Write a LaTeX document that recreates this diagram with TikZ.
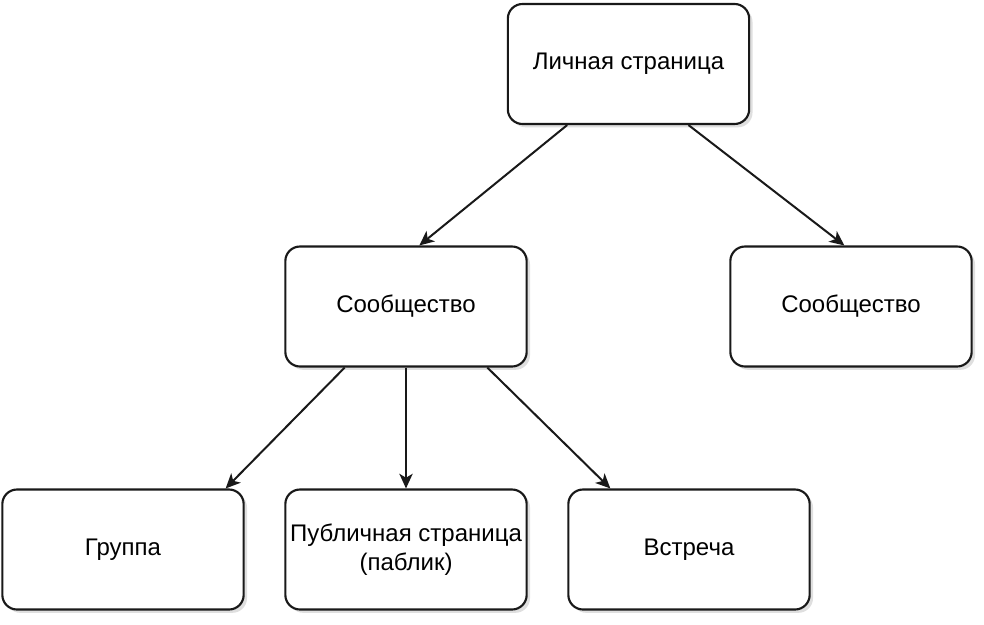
\documentclass[tikz,border=0pt]{standalone}
\usepackage{fontspec}
\setmainfont{Liberation Sans}
\usetikzlibrary{arrows.meta,shadows}
\begin{document}
\begin{tikzpicture}[x=0.75pt,y=-0.75pt,
  box/.style={draw=black!90,line width=1.6pt,rounded corners=11pt,fill=white,
    minimum width=181pt,minimum height=90pt,inner sep=0pt,align=center,
    font=\fontsize{18}{21.5}\selectfont,
    drop shadow={opacity=0.25,shadow xshift=2.5pt,shadow yshift=-2.5pt}},
  arr/.style={line width=1.5pt,draw=black!90,-{Stealth[length=11pt,width=10pt,inset=3pt]}}]
\useasboundingbox[fill=white] (0,0) rectangle (984,624);
\node[box] (top) at (628.5,64) {Личная страница};
\node[box] (ml) at (406,306.5) {Сообщество};
\node[box] (mr) at (851,306.5) {Сообщество};
\node[box] (g) at (123,549.5) {Группа};
\node[box] (p) at (406,549.5) {Публичная страница\\(паблик)};
\node[box] (v) at (689,549.5) {Встреча};
\draw[arr] ([xshift=-46pt]top.south) -- ([xshift=10pt]ml.north);
\draw[arr] ([xshift=45pt]top.south) -- ([xshift=-5pt]mr.north);
\draw[arr] ([xshift=-46pt]ml.south) -- ([xshift=77pt]g.north);
\draw[arr] (ml.south) -- (p.north);
\draw[arr] ([xshift=61pt]ml.south) -- ([xshift=-59pt]v.north);
\end{tikzpicture}
\end{document}
